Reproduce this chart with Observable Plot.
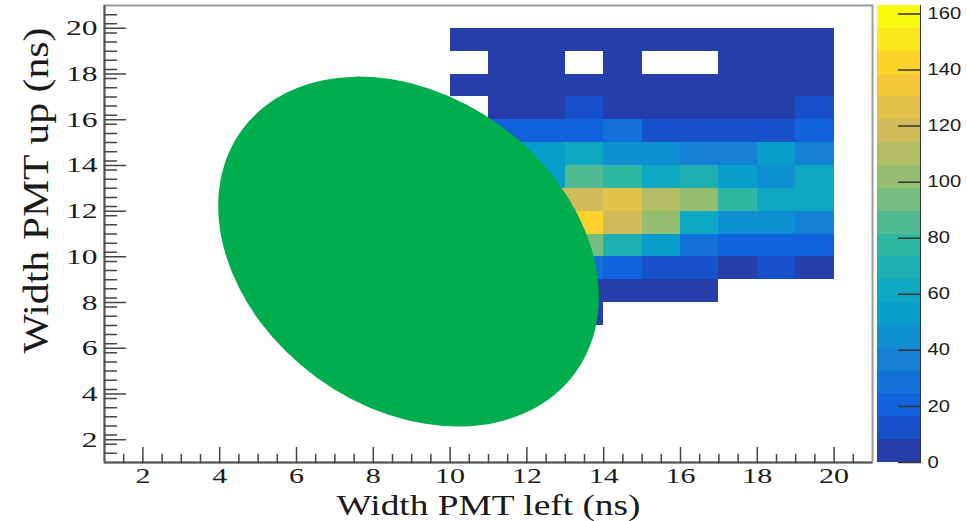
<!DOCTYPE html>
<html>
<head>
<meta charset="utf-8">
<script src="https://cdn.jsdelivr.net/npm/d3@7"></script>
<script src="https://cdn.jsdelivr.net/npm/@observablehq/plot@0.6"></script>
<style>
  html, body { margin: 0; padding: 0; background: #fff; }
  #chart { position: relative; width: 967px; height: 521px; overflow: hidden; }
  #chart > svg { position: absolute; top: 0; }
</style>
</head>
<body>
<div id="chart"></div>
<script>
// Lower edges (ns) of the 1 ns bins
const xBins = [10, 11, 12, 13, 14, 15, 16, 17, 18, 19];
const yBins = [19, 18, 17, 16, 15, 14, 13, 12, 11, 10, 9, 8, 7];

// Entries per bin, one row per yBins entry (null = empty bin)
const counts = [
  [3, 2, 3, 4, 3, 2, 3, 2, 3, 2],
  [null, 2, 3, null, 2, null, null, 2, 3, 2],
  [2, 3, 4, 5, 4, 3, 3, 3, 4, 4],
  [null, 5, 6, 12, 6, 5, 5, 6, 6, 12],
  [12, 20, 21, 20, 28, 12, 13, 12, 13, 21],
  [20, 45, 53, 61, 45, 45, 37, 37, 53, 37],
  [37, 77, 55, 86, 77, 61, 69, 53, 45, 61],
  [61, 118, 118, 118, 126, 110, 102, 77, 61, 61],
  [69, 134, 163, 143, 118, 102, 61, 45, 45, 37],
  [53, 102, 110, 94, 69, 53, 28, 20, 20, 20],
  [28, 45, 53, 28, 20, 12, 12, 4, 12, 4],
  [12, 12, 12, 4, 4, 4, 4, null, null, null],
  [4, 4, 4, 3, null, null, null, null, null, null]
];

// Axis tick labels
const xTickLabels = [2, 4, 6, 8, 10, 12, 14, 16, 18, 20];
const yTickLabels = [2, 4, 6, 8, 10, 12, 14, 16, 18, 20];
const zTickLabels = [0, 20, 40, 60, 80, 100, 120, 140, 160];

const xTitle = "Width PMT left (ns)";
const yTitle = "Width PMT up (ns)";

// Overlaid filled ellipse: centre in axis units, semi-axes in x-axis units, tilt in degrees
const ellipseCenter = [8.93, 10.21];
const ellipseAxes = [5.37, 4.06];
const ellipseTilt = 36;

// ---- derived tables -------------------------------------------------------
const cells = [];
yBins.forEach((y, j) => xBins.forEach((x, i) => {
  const v = counts[j][i];
  if (v != null) cells.push({x, y, v});
}));

const nLevels = 20;
const zMax = d3.max(cells, d => d.v);
const step = zMax / nLevels;
const thresholds = d3.range(1, nLevels).map(k => k * step);

// "bird" palette stops, sampled once per contour band
const birdStops = ["#352a87", "#0f5cdd", "#1481d6", "#06a4ca", "#2eb7a4",
                   "#87bf77", "#d1bb59", "#fec832", "#f9fb0e"];
const bird = d3.piecewise(d3.interpolateRgb, birdStops);
const bandColors = d3.range(nLevels).map(i => bird(Math.min(1, (i + 0.99) / nLevels)));
const colorOptions = {type: "threshold", domain: thresholds, range: bandColors};

const bands = d3.range(nLevels).map(k => ({lo: k * step, hi: (k + 1) * step, mid: (k + 0.5) * step}));

const xMinor = d3.range(1.5, 21, 0.5).filter(v => v % 2 !== 0);
const yMinor = d3.range(1, 21.01, 0.4).map(v => +v.toFixed(1)).filter(v => v > 1 && v < 21 && v % 2 !== 0);

// straight tick stroke for Plot.vector
const tickShape = {draw(context, l) { context.moveTo(0, 0); context.lineTo(0, -l); }};

const axisColor = "#444";
const fontSerif = "Liberation Serif, Times New Roman, serif";
const fontSans = "Liberation Sans, Arial, sans-serif";

// filled ellipse placed through the plot's own scales
function ellipseMark(index, scales) {
  const cx = scales.x(ellipseCenter[0]);
  const cy = scales.y(ellipseCenter[1]);
  const unit = scales.x(ellipseCenter[0] + 1) - cx;
  return d3.create("svg:ellipse")
    .attr("cx", cx).attr("cy", cy)
    .attr("rx", ellipseAxes[0] * unit).attr("ry", ellipseAxes[1] * unit)
    .attr("transform", `rotate(${ellipseTilt} ${cx} ${cy})`)
    .attr("fill", "#00ad4c")
    .node();
}

const main = Plot.plot({
  width: 967,
  height: 521,
  marginLeft: 104,
  marginRight: 95,
  marginTop: 5,
  marginBottom: 59,
  style: {background: "white", fontFamily: fontSerif, color: "#1a1a1a"},
  x: {domain: [1, 21]},
  y: {domain: [1, 21]},
  color: colorOptions,
  marks: [
    Plot.rect(cells, {x1: "x", x2: d => d.x + 1, y1: "y", y2: d => d.y + 1, fill: "v", shapeRendering: "crispEdges"}),
    ellipseMark,
    Plot.frame({stroke: "#9a9a9a", strokeWidth: 2}),
    Plot.ruleX([1], {stroke: "#5a5a5a", strokeWidth: 2}),
    Plot.ruleY([1], {stroke: "#5a5a5a", strokeWidth: 2}),
    Plot.vector(xTickLabels, {x: d => d, y: () => 1, length: 15, rotate: 0, anchor: "start", shape: tickShape, stroke: axisColor, strokeWidth: 1.5}),
    Plot.vector(xMinor, {x: d => d, y: () => 1, length: 8, rotate: 0, anchor: "start", shape: tickShape, stroke: axisColor, strokeWidth: 1.5}),
    Plot.vector(yTickLabels, {x: () => 1, y: d => d, length: 21, rotate: 90, anchor: "start", shape: tickShape, stroke: axisColor, strokeWidth: 1.5}),
    Plot.vector(yMinor, {x: () => 1, y: d => d, length: 12, rotate: 90, anchor: "start", shape: tickShape, stroke: axisColor, strokeWidth: 1.5}),
    Plot.axisX(xTickLabels, {anchor: "bottom", tickSize: 0, tickPadding: 5, fontSize: 22, label: null}),
    Plot.axisY(yTickLabels, {anchor: "left", tickSize: 0, tickPadding: 7, fontSize: 22, label: null}),
    Plot.text([xTitle], {frameAnchor: "bottom", dy: 42.6, fontSize: 30, lineAnchor: "middle", textAnchor: "middle"}),
    Plot.text([yTitle], {frameAnchor: "left", dx: -68, dy: -43.5, rotate: -90, fontSize: 35, lineAnchor: "middle", textAnchor: "middle"})
  ]
});

const bar = Plot.plot({
  width: 95,
  height: 521,
  marginLeft: 5,
  marginRight: 47,
  marginTop: 5,
  marginBottom: 59,
  style: {background: "transparent", fontFamily: fontSans, color: "#1a1a1a"},
  x: {domain: [0, 1], axis: null},
  y: {domain: [0, zMax], axis: null},
  color: colorOptions,
  marks: [
    Plot.rect(bands, {x1: () => 0, x2: () => 1, y1: "lo", y2: "hi", fill: "mid", shapeRendering: "crispEdges"}),
    Plot.ruleX([1], {stroke: "#333", strokeWidth: 1}),
    Plot.vector(zTickLabels, {x: () => 1, y: d => d, length: 22, rotate: -90, anchor: "start", shape: tickShape, stroke: "#333", strokeWidth: 1.5}),
    Plot.axisY(zTickLabels, {anchor: "right", tickSize: 0, tickPadding: 7, fontSize: 16, label: null})
  ]
});

const chart = document.getElementById("chart");
main.style.left = "0px";
bar.style.left = "872px";
chart.append(main, bar);

// widen glyphs to the measured label widths
function fitText(svg, selector, widthOf) {
  svg.querySelectorAll(selector).forEach(t => {
    const w = widthOf(t.textContent);
    if (w) {
      t.setAttribute("textLength", w);
      t.setAttribute("lengthAdjust", "spacingAndGlyphs");
    }
  });
}
fitText(main, 'g[aria-label="x-axis tick label"] text', s => s.length * 15);
fitText(main, 'g[aria-label="y-axis tick label"] text', s => s.length * 15.8);
fitText(main, 'g[aria-label="text"] text', s => s === xTitle ? 304 : s === yTitle ? 326 : 0);
fitText(bar, 'g[aria-label="y-axis tick label"] text', s => s.length * 11.2);
</script>
</body>
</html>
